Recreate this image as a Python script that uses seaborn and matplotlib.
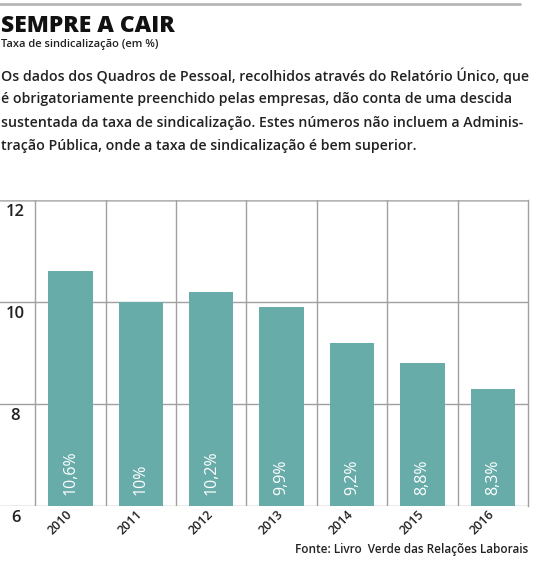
import seaborn as sns
import matplotlib.pyplot as plt
import pandas as pd

anos = ["2010", "2011", "2012", "2013", "2014", "2015", "2016"]
taxa = [10.6, 10.0, 10.2, 9.9, 9.2, 8.8, 8.3]
rotulos = ["10,6%", "10%", "10,2%", "9,9%", "9,2%", "8,8%", "8,3%"]
y_ticks = [6, 8, 10, 12]

titulo = "SEMPRE A CAIR"
subtitulo = "Taxa de sindicalização (em %)"
linhas = ["Os dados dos Quadros de Pessoal, recolhidos através do Relatório Único, que",
          "é obrigatoriamente preenchido pelas empresas, dão conta de uma descida",
          "sustentada da taxa de sindicalização. Estes números não incluem a Adminis-",
          "tração Pública, onde a taxa de sindicalização é bem superior."]
fonte = "Fonte: Livro  Verde das Relações Laborais"

sns.set_style("white")
plt.rcParams["font.family"] = ["Open Sans", "DejaVu Sans"]

COR = "#68acaa"
GRID = "#a0a0a0"
W, H = 533, 561

df = pd.DataFrame({"ano": anos, "taxa": taxa})

fig = plt.figure(figsize=(W / 100, H / 100), dpi=100)
# axes: x 0..528 px, y 200..506 px
ax = fig.add_axes([0, 1 - 506 / H, 528 / W, 306 / H])

sns.barplot(data=df, x="ano", y="taxa", color=COR, width=0.63,
            saturation=1, linewidth=0, ax=ax, zorder=3)
ax.set_xlim(-1.0, 6.5)
ax.set_ylim(6, 12)

for s in ["left", "top", "bottom"]:
    ax.spines[s].set_visible(False)
ax.spines["right"].set_color(GRID)
ax.spines["right"].set_linewidth(1)

for v in y_ticks:
    ax.axhline(v, color=GRID if v != 12 else "#b5b5b5",
               lw=1 if v != 12 else 1.8, zorder=1)
for i in range(len(anos)):
    ax.axvline(i - 0.5, color=GRID, lw=1, zorder=1)

ax.set_xticks([])
ax.set_yticks([])
ax.set_xlabel("")
ax.set_ylabel("")

for v in y_ticks:
    ax.text(-0.78, v - 0.08, str(v), ha="center", va="top",
            fontsize=12, fontweight="semibold", color="#222222")

for i, (a, r) in enumerate(zip(anos, rotulos)):
    ax.text(i, 6.22, r, rotation=90, ha="center", va="bottom",
            fontsize=11.5, color="white", zorder=4)
    ax.text(i - 0.15, 5.68, a, rotation=45, ha="center", va="center",
            fontsize=9, fontweight="semibold", color="#222222", clip_on=False)

# top rule
fig.add_artist(plt.Line2D([0, 520 / W], [1 - 4 / H, 1 - 4 / H],
                          color="#b5b5b5", lw=2))

fig.text(1 / W, 1 - 26 / H, titulo, fontsize=16.5, fontweight="heavy",
         va="center", ha="left", color="#111111")
fig.text(1 / W, 1 - 44 / H, subtitulo, fontsize=8, fontweight="semibold",
         va="center", ha="left", color="#222222")
for k, linha in enumerate(linhas):
    fig.text(1 / W, 1 - (76 + 23.3 * k) / H, linha, fontsize=10.2,
             fontweight="semibold", va="center", ha="left", color="#222222")
fig.text(528 / W, 1 - 550 / H, fonte, fontsize=8.5, fontweight="semibold",
         va="center", ha="right", color="#222222")

fig.savefig("out.png", dpi=100)
